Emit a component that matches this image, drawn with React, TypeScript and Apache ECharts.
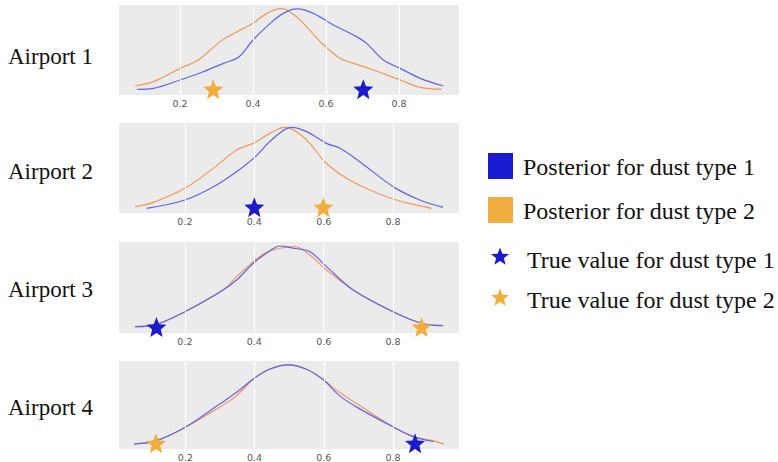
import React, { useEffect, useRef } from "react";
import * as echarts from "echarts";

// ---------- data ----------
const airportNames = ["Airport 1", "Airport 2", "Airport 3", "Airport 4"];

const airport1Type1: [number, number][] = [
  [0.083, 0.063], [0.127, 0.074], [0.2, 0.167], [0.264, 0.259], [0.319, 0.352], [0.36, 0.419],
  [0.4, 0.611], [0.447, 0.796], [0.483, 0.907], [0.52, 0.956], [0.565, 0.907], [0.62, 0.778],
  [0.675, 0.667], [0.711, 0.574], [0.757, 0.389], [0.803, 0.296], [0.858, 0.185], [0.921, 0.1],
];
const airport1Type2: [number, number][] = [
  [0.077, 0.1], [0.127, 0.148], [0.2, 0.296], [0.25, 0.389], [0.31, 0.593], [0.355, 0.7],
  [0.4, 0.796], [0.438, 0.907], [0.477, 0.959], [0.501, 0.926], [0.538, 0.796], [0.584, 0.593],
  [0.638, 0.407], [0.675, 0.352], [0.73, 0.278], [0.803, 0.167], [0.858, 0.085], [0.917, 0.063],
];
const airport2Type1: [number, number][] = [
  [0.09, 0.052], [0.2, 0.144], [0.291, 0.311], [0.349, 0.459], [0.4, 0.615], [0.455, 0.83],
  [0.507, 0.952], [0.551, 0.904], [0.608, 0.774], [0.647, 0.719], [0.704, 0.57], [0.8, 0.293],
  [0.877, 0.144], [0.944, 0.063],
];
const airport2Type2: [number, number][] = [
  [0.056, 0.07], [0.109, 0.118], [0.2, 0.274], [0.282, 0.496], [0.349, 0.7], [0.397, 0.774],
  [0.445, 0.885], [0.488, 0.952], [0.522, 0.904], [0.56, 0.774], [0.603, 0.57], [0.666, 0.385],
  [0.733, 0.256], [0.8, 0.156], [0.858, 0.096], [0.911, 0.052],
];
const airport3Type1: [number, number][] = [
  [0.056, 0.069], [0.118, 0.095], [0.2, 0.234], [0.31, 0.473], [0.349, 0.582], [0.397, 0.766],
  [0.435, 0.876], [0.474, 0.956], [0.512, 0.931], [0.56, 0.894], [0.608, 0.729], [0.685, 0.473],
  [0.8, 0.234], [0.882, 0.107], [0.944, 0.08],
];
const airport3Type2: [number, number][] = [
  [0.056, 0.069], [0.118, 0.095], [0.2, 0.234], [0.31, 0.473], [0.349, 0.619], [0.397, 0.784],
  [0.435, 0.886], [0.474, 0.931], [0.517, 0.949], [0.56, 0.857], [0.608, 0.692], [0.685, 0.473],
  [0.8, 0.234], [0.882, 0.107], [0.944, 0.08],
];
const airport4Type1: [number, number][] = [
  [0.052, 0.059], [0.115, 0.093], [0.202, 0.252], [0.299, 0.511], [0.347, 0.641], [0.4, 0.807],
  [0.443, 0.907], [0.497, 0.956], [0.55, 0.907], [0.598, 0.789], [0.646, 0.604], [0.704, 0.456],
  [0.8, 0.252], [0.859, 0.141], [0.917, 0.085],
];
const airport4Type2: [number, number][] = [
  [0.052, 0.059], [0.115, 0.093], [0.202, 0.252], [0.299, 0.474], [0.347, 0.604], [0.4, 0.807],
  [0.443, 0.907], [0.497, 0.956], [0.55, 0.907], [0.598, 0.789], [0.646, 0.641], [0.704, 0.493],
  [0.8, 0.252], [0.859, 0.141], [0.917, 0.093], [0.948, 0.056],
];

const posteriorType1 = [airport1Type1, airport2Type1, airport3Type1, airport4Type1];
const posteriorType2 = [airport1Type2, airport2Type2, airport3Type2, airport4Type2];

const trueType1 = [0.702, 0.4, 0.118, 0.864];
const trueType2 = [0.291, 0.599, 0.882, 0.115];

const xTicks = [0.2, 0.4, 0.6, 0.8];
const xMins = [0.033, 0.01, 0.01, 0.008];
const xMaxs = [0.964, 0.99, 0.99, 0.991];

const legendLabels = [
  "Posterior for dust type 1",
  "Posterior for dust type 2",
  "True value for dust type 1",
  "True value for dust type 2",
];

// ---------- style ----------
const LINE_BLUE = "#6262ee";
const LINE_ORANGE = "#f0975a";
const STAR_BLUE = "#1b1bcc";
const STAR_ORANGE = "#f2ae3c";
const SQ_BLUE = "#1a1ad0";
const SQ_ORANGE = "#f0ae40";
const STAR_Y = 0.065;
const SERIF = "'Liberation Serif', 'DejaVu Serif', serif";

const gridTops = [5, 123, 242, 361];
const gridHeights = [90, 90, 91, 90];
const labelCenters = [56, 171, 289, 407];

function starPoints(cx: number, cy: number, R: number, ratio = 0.43): number[][] {
  const pts: number[][] = [];
  for (let i = 0; i < 10; i++) {
    const r = i % 2 === 0 ? R : R * ratio;
    const a = -Math.PI / 2 + (i * Math.PI) / 5;
    pts.push([cx + r * Math.cos(a), cy + r * Math.sin(a)]);
  }
  return pts;
}
function starPath(): string {
  const pts = starPoints(50, 50, 50);
  return "path://" + pts.map((p, i) => (i === 0 ? "M" : "L") + p[0].toFixed(2) + " " + p[1].toFixed(2)).join(" ") + " Z";
}

export default function App() {
  const ref = useRef<HTMLDivElement>(null);
  useEffect(() => {
    document.body.style.margin = "0";
    if (!ref.current) return;
    const chart = echarts.init(ref.current, undefined, { renderer: "svg" });
    const star = starPath();

    const grids = gridTops.map((t, i) => ({
      left: 119, top: t, width: 340, height: gridHeights[i],
      show: true, backgroundColor: "#ebebeb", borderWidth: 0,
    }));
    const xAxes = gridTops.map((_, i) => ({
      type: "value", gridIndex: i, min: xMins[i], max: xMaxs[i],
      axisLine: { show: false }, axisTick: { show: false }, splitLine: { show: false },
      axisLabel: {
        customValues: xTicks, color: "#555", fontSize: 9.5, margin: 3,
        fontFamily: "'DejaVu Sans', sans-serif",
        formatter: (v: number) => v.toFixed(1),
      },
    }));
    const yAxes = gridTops.map((_, i) => ({
      type: "value", gridIndex: i, min: 0, max: 1, show: false,
      splitLine: { show: false },
    }));

    const series: any[] = [];
    for (let i = 0; i < 4; i++) {
      series.push({
        type: "line", xAxisIndex: i, yAxisIndex: i, data: [[xTicks[0], 0]],
        showSymbol: false, lineStyle: { opacity: 0 }, z: 1, silent: true,
        markLine: {
          silent: true, symbol: ["none", "none"], label: { show: false },
          lineStyle: { color: "#ffffff", width: 1, type: "solid" },
          data: xTicks.map((v) => ({ xAxis: v })),
        },
      });
      series.push({
        name: legendLabels[1], type: "line", xAxisIndex: i, yAxisIndex: i, data: posteriorType2[i],
        smooth: 0.35, showSymbol: false, lineStyle: { color: LINE_ORANGE, width: 1.2 }, z: 3,
      });
      series.push({
        name: legendLabels[0], type: "line", xAxisIndex: i, yAxisIndex: i, data: posteriorType1[i],
        smooth: 0.35, showSymbol: false, lineStyle: { color: LINE_BLUE, width: 1.2 }, z: 3,
      });
      series.push({
        name: legendLabels[2], type: "scatter", xAxisIndex: i, yAxisIndex: i,
        data: [[trueType1[i], STAR_Y]], symbol: star, symbolSize: 20,
        itemStyle: { color: STAR_BLUE, opacity: 1 }, z: 5,
      });
      series.push({
        name: legendLabels[3], type: "scatter", xAxisIndex: i, yAxisIndex: i,
        data: [[trueType2[i], STAR_Y]], symbol: star, symbolSize: 20,
        itemStyle: { color: STAR_ORANGE, opacity: 1 }, z: 5,
      });
    }

    const graphic: any[] = [];
    airportNames.forEach((name, i) => {
      graphic.push({
        type: "text", x: 8, y: labelCenters[i],
        style: { text: name, fontSize: 23, fontFamily: SERIF, fill: "#111", textVerticalAlign: "middle" },
      });
    });
    const legendY = [167, 211, 260, 300];
    graphic.push({ type: "rect", shape: { x: 488, y: 153, width: 25, height: 26 }, style: { fill: SQ_BLUE } });
    graphic.push({ type: "rect", shape: { x: 488, y: 197, width: 25, height: 26 }, style: { fill: SQ_ORANGE } });
    graphic.push({ type: "polygon", shape: { points: starPoints(500, 257, 9.5) }, style: { fill: STAR_BLUE } });
    graphic.push({ type: "polygon", shape: { points: starPoints(500, 298, 9.5) }, style: { fill: STAR_ORANGE } });
    const textX = [523, 523, 527, 527];
    legendLabels.forEach((lbl, i) => {
      graphic.push({
        type: "text", x: textX[i], y: legendY[i],
        style: { text: lbl, fontSize: 24, fontFamily: SERIF, fill: "#111", textVerticalAlign: "middle" },
      });
    });

    chart.setOption({
      animation: false,
      backgroundColor: "#ffffff",
      grid: grids,
      xAxis: xAxes,
      yAxis: yAxes,
      series,
      graphic,
    });
    return () => chart.dispose();
  }, []);
  return <div ref={ref} style={{ width: 778, height: 462 }} />;
}
